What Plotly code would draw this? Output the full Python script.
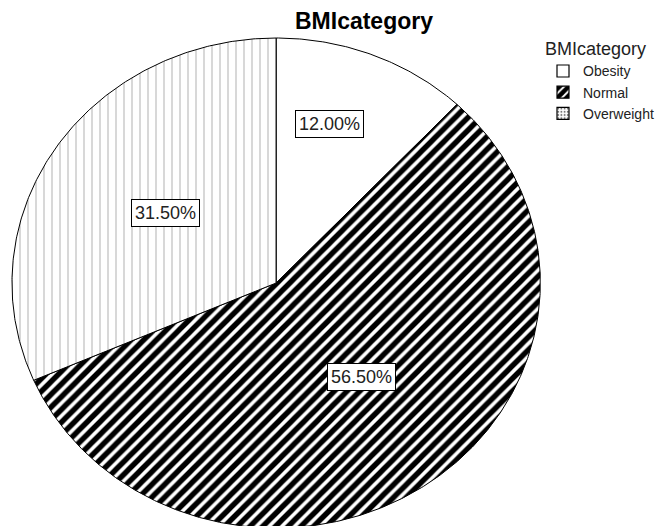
import numpy as np
import plotly.graph_objects as go

# ---- data ----
categories = ["Obesity", "Normal", "Overweight"]
percents = [12.00, 56.50, 31.50]
labels = ["12.00%", "56.50%", "31.50%"]

# ---- style ----
W, H = 659, 526
CX, CY, RX, RY = 277, 283, 265, 245   # pixel centre / radii of the (stretched) pie
patterns = [
    dict(shape="", fgcolor="black", bgcolor="white"),
    dict(shape="/", fgcolor="black", bgcolor="white", size=9, solidity=0.6, fgopacity=1),
    dict(shape="|", fgcolor="#b4b4b4", bgcolor="white", size=8, solidity=0.13, fgopacity=1),
]
legend_patterns = [
    dict(shape="", fgcolor="black", bgcolor="white"),
    dict(shape="/", fgcolor="black", bgcolor="white", size=8, solidity=0.7, fgopacity=1),
    dict(shape=".", fgcolor="#777777", bgcolor="white", size=4, solidity=0.3, fgopacity=1),
]
label_r = [0.70, 0.50, 0.50]
label_xshift = [-15, 9, 0]
label_yshift = [0, 6, 3]
FONT = "Arial, Liberation Sans, sans-serif"

fig = go.Figure()

total = sum(percents)
start = 0.0
mids = []
for cat, p, pat in zip(categories, percents, patterns):
    span = 360.0 * p / total
    end = start + span
    n = max(4, int(span * 2))
    th = np.radians(np.linspace(start, end, n))
    xs = np.concatenate([[0.0], np.sin(th), [0.0]])
    ys = np.concatenate([[0.0], np.cos(th), [0.0]])
    kw = {}
    if pat["shape"]:
        kw["fillpattern"] = pat
    fig.add_trace(go.Scatter(
        x=xs, y=ys, mode="lines", fill="toself", fillcolor="white",
        line=dict(color="black", width=1), showlegend=False,
        hoverinfo="skip", **kw))
    mids.append(np.radians(start + span / 2))
    start = end

# legend entries (square patterned swatches)
for cat, pat in zip(categories, legend_patterns):
    mk = dict(color="white", line=dict(color="black", width=1.2))
    if pat["shape"]:
        mk["pattern"] = pat
    fig.add_trace(go.Bar(x=[None], y=[None], name=cat, marker=mk, showlegend=True))

for lab, m, r, xs_, ys_ in zip(labels, mids, label_r, label_xshift, label_yshift):
    fig.add_annotation(
        x=r * np.sin(m), y=r * np.cos(m), text=lab, showarrow=False,
        xshift=xs_, yshift=ys_,
        font=dict(family=FONT, size=18, color="#222"),
        bgcolor="white", bordercolor="black", borderwidth=1, borderpad=3)

fig.update_layout(
    width=W, height=H,
    margin=dict(l=0, r=0, t=0, b=0),
    paper_bgcolor="white", plot_bgcolor="rgba(0,0,0,0)",
    title=dict(text="<b>BMIcategory</b>", x=364 / W, xanchor="center",
               y=1 - 21 / H, yanchor="middle", yref="container",
               font=dict(family=FONT, size=23, color="black")),
    xaxis=dict(range=[-CX / RX, (W - CX) / RX], visible=False, fixedrange=True),
    yaxis=dict(range=[-(H - CY) / RY, CY / RY], visible=False, fixedrange=True),
    showlegend=True,
    legend=dict(
        title=dict(text="BMIcategory", font=dict(family=FONT, size=18, color="#222")),
        font=dict(family=FONT, size=14, color="#222"),
        x=545 / W, xanchor="left", y=1 - 32 / H, yanchor="top",
        bgcolor="rgba(0,0,0,0)", itemwidth=30, tracegroupgap=0,
    ),
)

fig.write_html("out.html")
